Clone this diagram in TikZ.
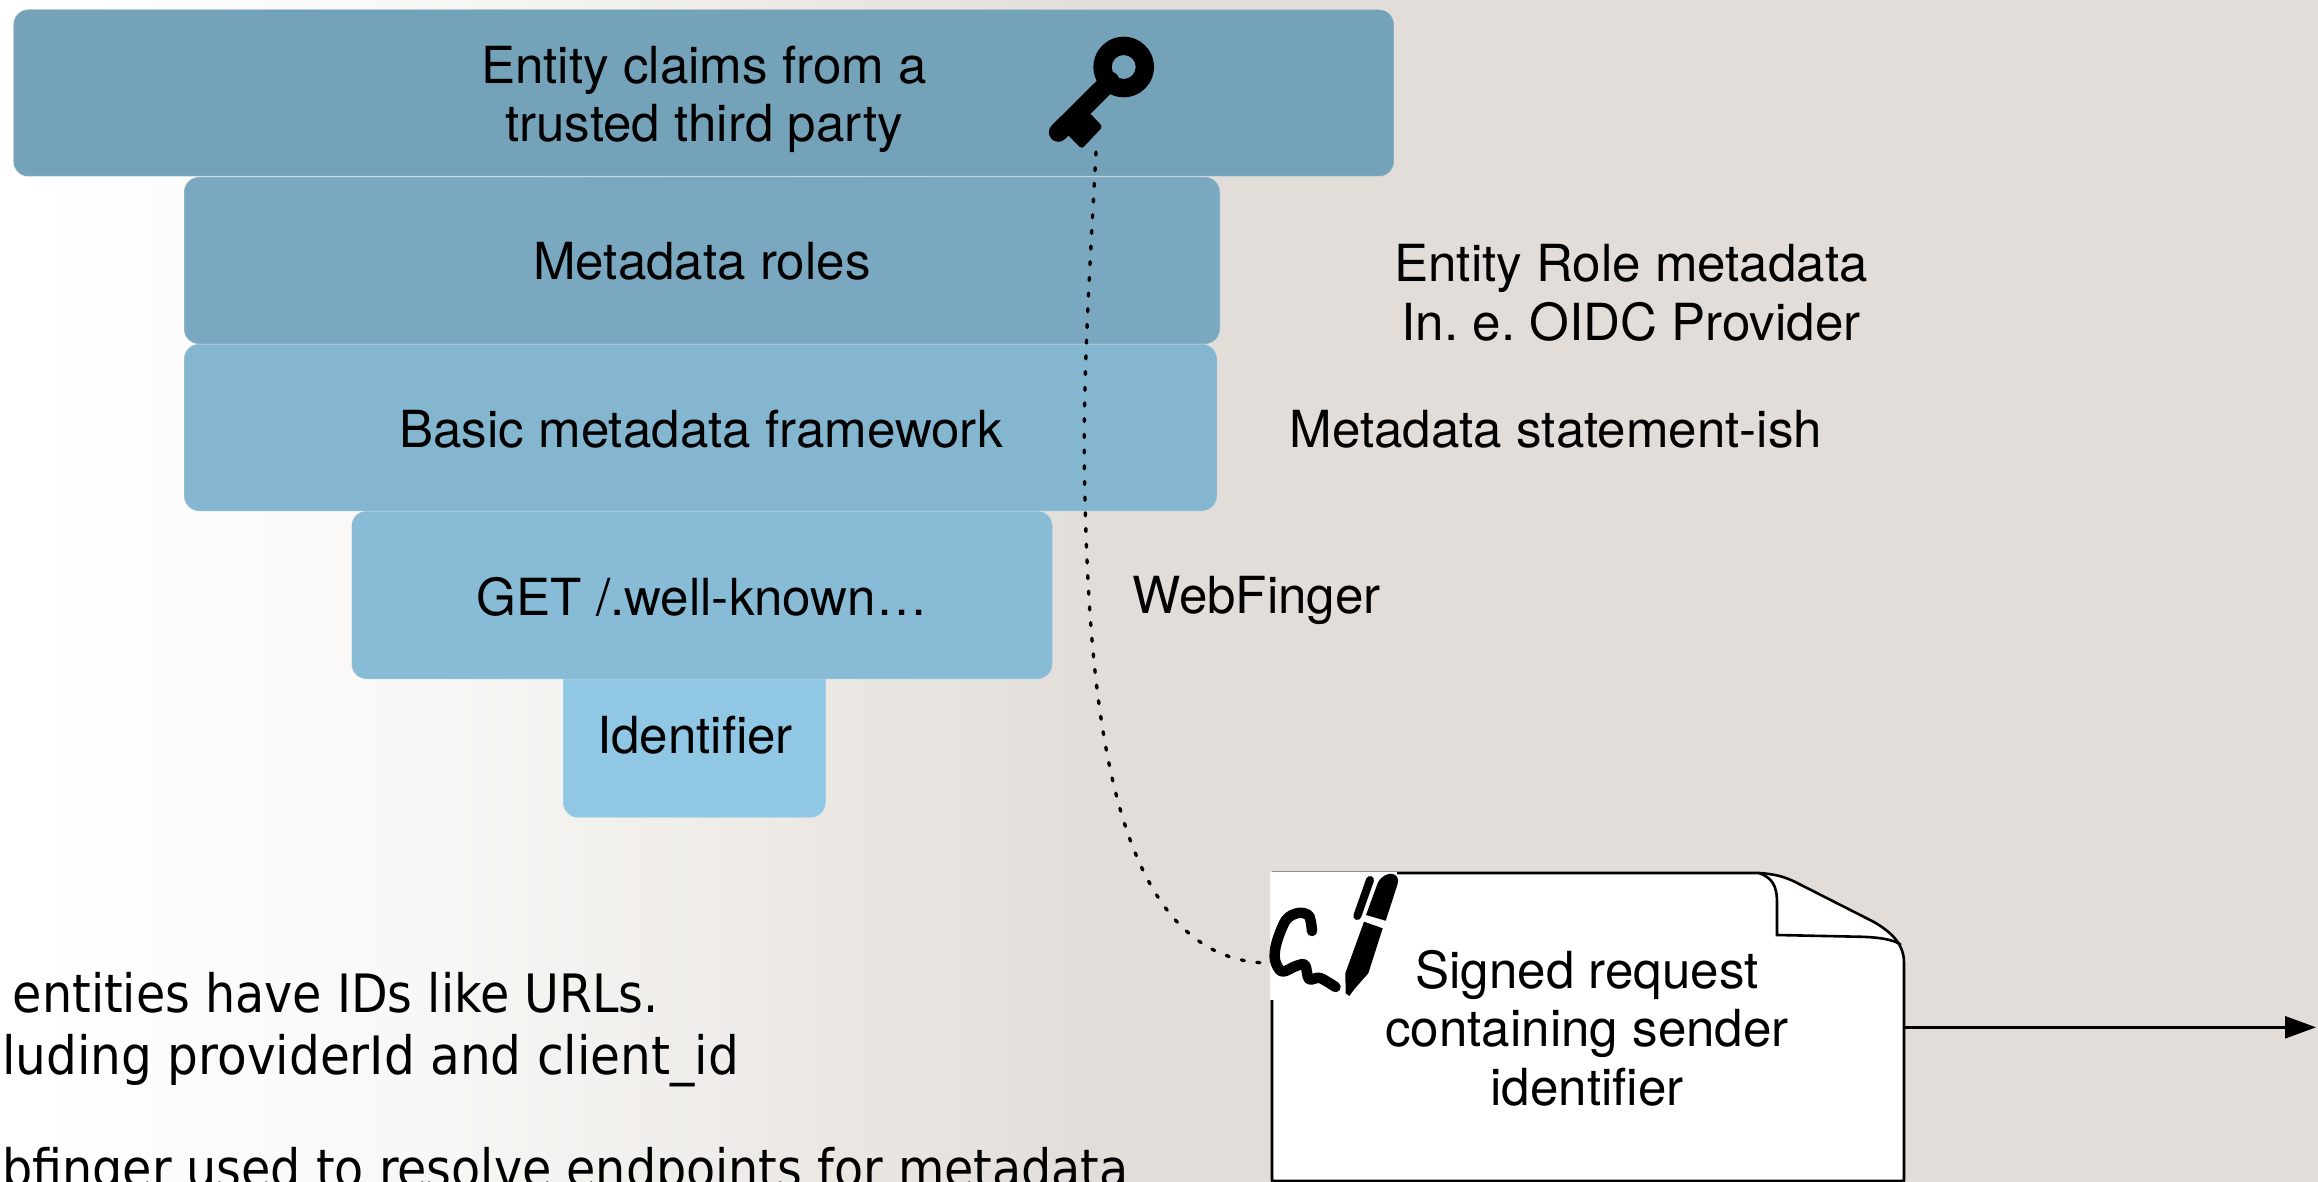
\documentclass[tikz,border=0pt]{standalone}
\usepackage{fontspec}
\setmainfont{TeX Gyre Heros}
\newfontfamily\tah{DejaVu Sans Condensed}
\usetikzlibrary{arrows.meta}
\definecolor{bgend}{HTML}{E2DDD9}
\definecolor{cA}{HTML}{74A3B9}
\definecolor{cB}{HTML}{7AA8C0}
\definecolor{cC}{HTML}{84B6D0}
\definecolor{cD}{HTML}{88BBD5}
\definecolor{cE}{HTML}{90C7E4}
\definecolor{gA}{HTML}{FDFDFD}
\definecolor{gB}{HTML}{F9F8F6}
\definecolor{gC}{HTML}{F3F1EE}
\definecolor{gD}{HTML}{EAE7E3}
\tikzset{
  tier/.style={rectangle,rounded corners=15pt,inner sep=0pt,draw=white,draw opacity=.22,line width=1pt},
  lab/.style={inner sep=0pt,align=center,text=black,font=\fontsize{51.1}{58.5}\selectfont},
  note/.style={inner sep=0pt,anchor=base west,text=black,font=\tah\fontsize{52.9}{60}\selectfont},
  ink/.style={line width=2.6pt,draw=black},
}
\begin{document}
\frenchspacing
\begin{tikzpicture}[x=1pt,y=-1pt]
\useasboundingbox (0,0) rectangle (2318,1182);
\clip (0,0) rectangle (2318,1182);
% background
\fill[white] (0,0) rectangle (31,1182);
\fill[left color=white,right color=gA] (30,0) rectangle (131,1182);
\fill[left color=gA,right color=gB] (130,0) rectangle (401,1182);
\fill[left color=gB,right color=gC] (400,0) rectangle (601,1182);
\fill[left color=gC,right color=gD] (600,0) rectangle (851,1182);
\fill[left color=gD,right color=bgend] (850,0) rectangle (1101,1182);
\fill[bgend] (1100,0) rectangle (2318,1182);
% tiers
\node[tier,fill=cE,minimum width=262.7pt,minimum height=164.7pt] (t5) at (694.4,735.3) {};
\node[tier,fill=cD,minimum width=701pt,minimum height=168pt] (t4) at (702,595) {};
\node[tier,fill=cC,minimum width=1033pt,minimum height=167pt] (t3) at (700.5,427.5) {};
\node[tier,fill=cB,minimum width=1036pt,minimum height=167pt] (t2) at (702,260.5) {};
\node[tier,fill=cA,minimum width=1380.5pt,minimum height=167pt] (t1) at (703.7,93) {};
\node[lab] (t1text) at (704,99.5) {Entity claims from a\\trusted third party};
\node[lab] (t2text) at (702,261.5) {Metadata roles};
\node[lab] (t3text) at (701,429) {Basic metadata framework};
\node[lab] (t4text) at (702,597) {GET /.well-known\dots};
\node[lab] (t5text) at (695,735.3) {Identifier};
% side labels
\node[lab] (l1) at (1631,293) {Entity Role metadata\\In. e. OIDC Provider};
\node[lab] (l2) at (1556,429) {Metadata statement-ish};
\node[lab] (l3) at (1256.5,600.5) {WebFinger};
% notes
\node[note] (n1) at (12.7,1012.7) {entities have IDs like URLs.};
\node[note] (n2) at (2,1074) {\scalebox{1.02}[1]{luding providerId and client\_id}};
\node[note] (n3) at (2,1187) {bfinger used to resolve endpoints for metadata};
% document
\draw[ink,fill=white,line join=round] (1272,873) -- (1759,873) .. controls (1775,874) and (1785,877) .. (1794.6,881.7) -- (1873.4,921.7) .. controls (1893,933) and (1904,945) .. (1904,963) -- (1904,1181) -- (1272,1181) -- cycle;
\draw[ink,line join=miter] (1759,873) .. controls (1772,878) and (1777,885) .. (1777,903) -- (1777,935) -- (1857.7,936.7) .. controls (1880,937) and (1895,940) .. (1901,945);
\node[lab] (doc) at (1587,1028) {Signed request\\containing sender\\identifier};
\coordinate (docright) at (1904,1027.3);
\coordinate (arrowend) at (2316,1027.3);
\draw[ink,-{Triangle[length=31pt,width=22pt]}] (docright) -- (arrowend);
% signature image
\fill[white] (1270,872) rectangle (1397,1000);
\draw[line width=10.5pt,line cap=round,line join=round] plot[smooth,tension=.55] coordinates {(1312,931) (1309,916) (1298.3,913) (1286,920) (1276.5,943) (1275,960) (1282,971.5) (1296,966) (1305,965) (1309,979) (1320,978) (1335.5,987)};
\fill (1366,915) -- (1377.7,883) .. controls (1385,869) and (1402,872) .. (1397.3,885) -- (1385.7,920.7) -- cycle;
\draw[line width=8pt,line cap=round] (1370,880) -- (1357.3,916);
\fill[line join=round] (1364,921.7) -- (1382.7,928.3) -- (1368.3,973.3) -- (1355,988.3) -- (1349.3,996) -- (1345.7,993.3) -- (1345.3,973.3) -- cycle;
% key
\fill[even odd rule] (1123.7,67) circle[radius=30.3] (1123.7,67) circle[radius=12];
\draw[line width=19pt,line cap=round] (1058.3,132.3) -- (1110,81);
\fill[rounded corners=3pt] (1085,108) -- (1102.7,126.7) -- (1081.7,149) -- (1063,130) -- cycle;
% connector
\coordinate (keytip) at (1096,152);
\coordinate (sigleft) at (1270,963);
\draw[line width=3.4pt,line cap=round,dash pattern=on 3pt off 12.7pt] (keytip) .. controls (1088,300) and (1082,400) .. (1085,500) .. controls (1090,700) and (1110,963) .. (sigleft);
\end{tikzpicture}
\end{document}
